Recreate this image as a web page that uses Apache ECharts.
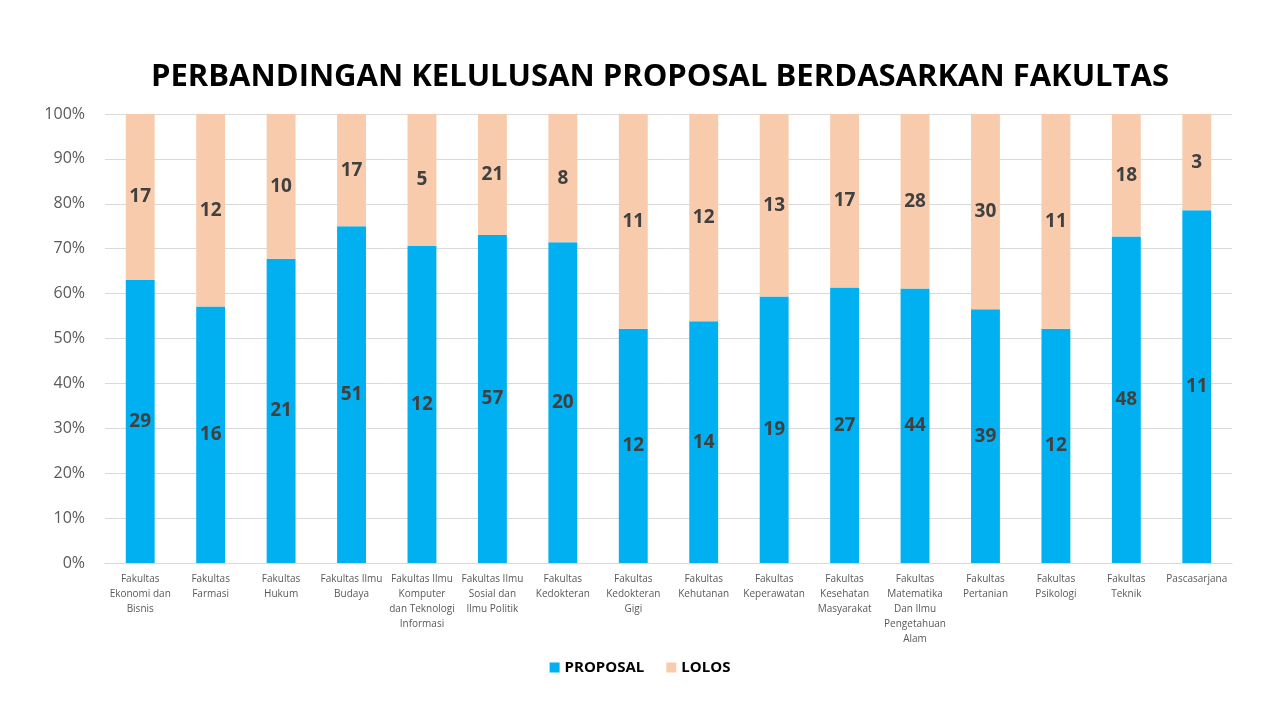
<!DOCTYPE html>
<html>
<head>
<meta charset="utf-8">
<script src="https://cdn.jsdelivr.net/npm/echarts@6/dist/echarts.min.js"></script>
<style>
  html, body { margin: 0; padding: 0; background: #fff; }
  #chart { width: 1280px; height: 720px; }
</style>
</head>
<body>
<div id="chart"></div>
<script>
// category tick labels (line breaks as in the picture)
const faculties = [
  "Fakultas\nEkonomi dan\nBisnis",
  "Fakultas\nFarmasi",
  "Fakultas\nHukum",
  "Fakultas Ilmu\nBudaya",
  "Fakultas Ilmu\nKomputer\ndan Teknologi\nInformasi",
  "Fakultas Ilmu\nSosial dan\nIlmu Politik",
  "Fakultas\nKedokteran",
  "Fakultas\nKedokteran\nGigi",
  "Fakultas\nKehutanan",
  "Fakultas\nKeperawatan",
  "Fakultas\nKesehatan\nMasyarakat",
  "Fakultas\nMatematika\nDan Ilmu\nPengetahuan\nAlam",
  "Fakultas\nPertanian",
  "Fakultas\nPsikologi",
  "Fakultas\nTeknik",
  "Pascasarjana"
];
const proposal = [29, 16, 21, 51, 12, 57, 20, 12, 14, 19, 27, 44, 39, 12, 48, 11];
const lolos = [17, 12, 10, 17, 5, 21, 8, 11, 12, 13, 17, 28, 30, 11, 18, 3];

// 100% stacked: turn counts into shares
function share(arr) {
  return arr.map(function (v, i) {
    return { value: (v / (proposal[i] + lolos[i])) * 100, raw: v };
  });
}

let myChart = echarts.init(document.getElementById("chart")),
  option;

const labelStyle = {
  show: true,
  position: "inside",
  color: "#404040",
  fontSize: 19,
  fontWeight: "bold",
  fontFamily: "Open Sans",
  formatter: function (p) {
    return p.data.raw;
  }
};

option = {
  animation: false,
  title: {
    text: "PERBANDINGAN KELULUSAN PROPOSAL BERDASARKAN FAKULTAS",
    left: 146,
    top: 57,
    textStyle: {
      fontFamily: "Open Sans",
      fontSize: 31,
      fontWeight: "bold",
      color: "#000"
    }
  },
  legend: {
    bottom: 40,
    left: "center",
    itemWidth: 10,
    itemHeight: 10,
    itemGap: 22,
    icon: "rect",
    textStyle: {
      fontFamily: "Open Sans",
      fontSize: 15,
      fontWeight: "bold",
      color: "#000"
    },
    data: ["PROPOSAL", "LOLOS"]
  },
  grid: {
    left: 105,
    right: 48,
    top: 114,
    bottom: 157
  },
  xAxis: {
    type: "category",
    data: faculties,
    axisTick: { show: false },
    axisLine: { lineStyle: { color: "#d9d9d9" } },
    axisLabel: {
      interval: 0,
      color: "#595959",
      fontSize: 10,
      lineHeight: 15,
      fontFamily: "Open Sans",
      margin: 9
    }
  },
  yAxis: {
    type: "value",
    min: 0,
    max: 100,
    interval: 10,
    axisLine: { show: false },
    axisTick: { show: false },
    splitLine: { lineStyle: { color: "#d9d9d9" } },
    axisLabel: {
      color: "#595959",
      fontSize: 16,
      fontFamily: "Open Sans",
      margin: 20,
      formatter: "{value}%"
    }
  },
  series: [
    {
      name: "PROPOSAL",
      type: "bar",
      stack: "total",
      barWidth: "41%",
      itemStyle: { color: "#00b0f0" },
      label: labelStyle,
      data: share(proposal)
    },
    {
      name: "LOLOS",
      type: "bar",
      stack: "total",
      barWidth: "41%",
      itemStyle: { color: "#f8cbad" },
      label: labelStyle,
      data: share(lolos)
    }
  ]
};

if (option && typeof option === "object") myChart.setOption(option);
</script>
</body>
</html>
